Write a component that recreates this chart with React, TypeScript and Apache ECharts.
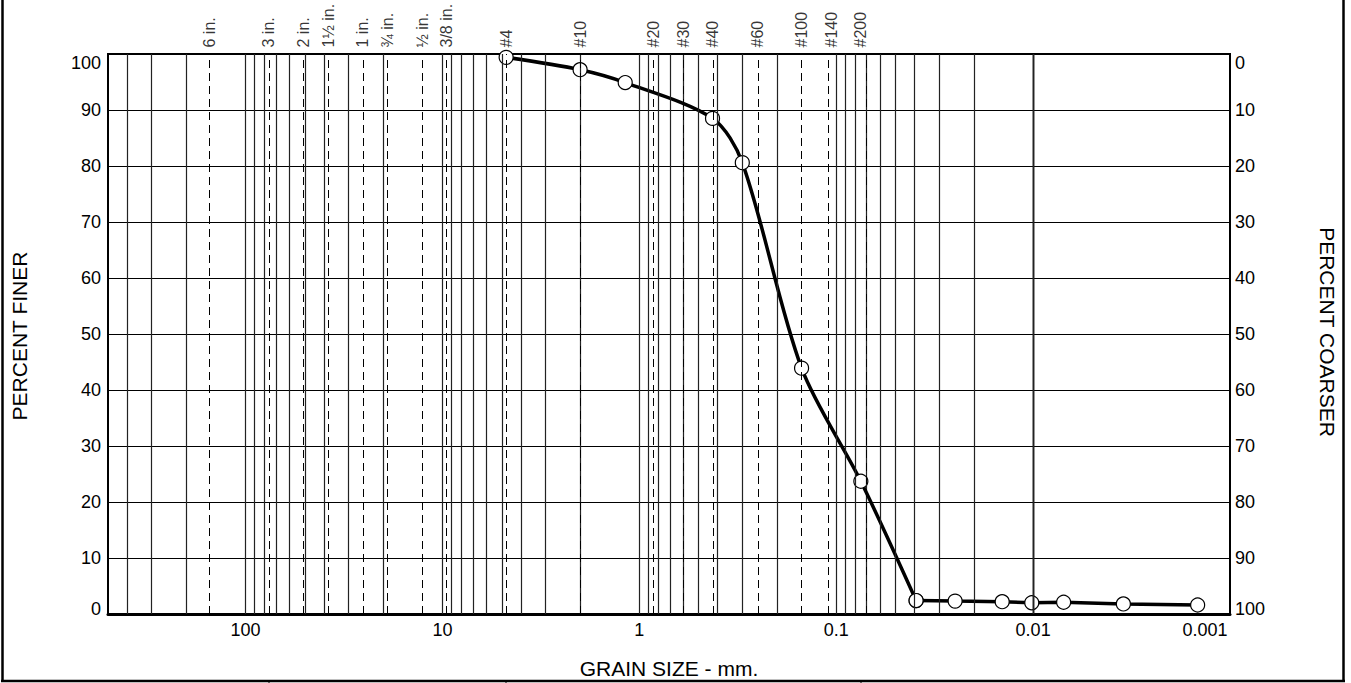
import React, { useEffect, useRef } from 'react';
import * as echarts from 'echarts';

// Grain size (mm) and percent finer
const grainSizes = [4.75, 2.0, 1.18, 0.425, 0.3, 0.15, 0.075, 0.0393, 0.0249, 0.01436, 0.01016, 0.007, 0.00348, 0.00146];
const percentFiner = [99.4, 97.2, 94.9, 88.5, 80.6, 43.9, 23.7, 2.4, 2.3, 2.2, 2.0, 2.1, 1.8, 1.6];
// the first 8 points (sieves + first hydrometer reading) form the smooth curve
const smoothCount = 8;

// Sieve openings (mm) drawn as dashed lines with labels on top
const sieveOpenings = [152.4, 76.2, 50.8, 38.1, 25.4, 19.05, 12.7, 9.525, 4.75, 2.0, 0.85, 0.6, 0.425, 0.25, 0.15, 0.106, 0.075];
const sieveLabels = ['6 in.', '3 in.', '2 in.', '1½ in.', '1 in.', '¾ in.', '½ in.', '3/8 in.', '#4', '#10', '#20', '#30', '#40', '#60', '#100', '#140', '#200'];

// x tick labels by exponent (10^-3 .. 10^2)
const xTickLabels = ['0.001', '0.01', '0.1', '1', '10', '100'];
const xMin = 0.001;
const xMax = 500;
const decadeExponents = [-3, -2, -1, 0, 1, 2];
const decadeMultipliers = [1, 2, 3, 4, 5, 6, 7, 8, 9];

const FONT = '"Liberation Sans", Arial, Helvetica, sans-serif';

export default function App() {
  const ref = useRef<HTMLDivElement>(null);

  useEffect(() => {
    if (!ref.current) return;
    const chart = echarts.init(ref.current, undefined, { renderer: 'svg' });

    const gridValues: number[] = [];
    decadeExponents.forEach((e) => {
      decadeMultipliers.forEach((m) => {
        const v = parseFloat((m * Math.pow(10, e)).toPrecision(6));
        if (v > xMin && v < xMax) gridValues.push(v);
      });
    });

    const pts = grainSizes.map((g, i) => [g, percentFiner[i]]);
    const smoothPts = pts.slice(0, smoothCount);
    const straightPts = pts.slice(smoothCount - 1);

    const labelRich = {
      t: { padding: [18, 0, 0, 0], fontSize: 18, fontFamily: FONT, color: '#000' },
      b: { padding: [0, 0, 10, 0], fontSize: 18, fontFamily: FONT, color: '#000' },
    };

    const option: any = {
      animation: false,
      backgroundColor: '#fff',
      grid: {
        left: 108,
        right: 121,
        top: 54,
        bottom: 69,
        show: true,
        borderColor: '#000',
        borderWidth: 2,
        backgroundColor: 'transparent',
      },
      xAxis: {
        type: 'log',
        logBase: 10,
        min: xMin,
        max: xMax,
        inverse: true,
        axisLine: { show: true, onZero: false, lineStyle: { color: '#000', width: 3 } },
        axisTick: { show: false },
        splitLine: { show: false },
        minorTick: { show: false },
        axisLabel: {
          show: true,
          margin: 7,
          fontSize: 18,
          fontFamily: FONT,
          color: '#000',
          formatter: (v: number) => {
            const e = Math.log10(v);
            const r = Math.round(e);
            if (Math.abs(e - r) > 1e-6) return '';
            const s = xTickLabels[r + 3];
            if (!s) return '';
            return r === -3 ? '{r|' + s + '}' : s;
          },
          rich: {
            r: { padding: [0, 50, 0, 0], fontSize: 18, fontFamily: FONT, color: '#000' },
          },
        },
      },
      yAxis: [
        {
          type: 'value',
          min: 0,
          max: 100,
          interval: 10,
          position: 'left',
          axisLine: { show: true, lineStyle: { color: '#000', width: 2 } },
          axisTick: { show: false },
          splitLine: { show: true, lineStyle: { color: '#000', width: 1 } },
          axisLabel: {
            margin: 7,
            fontSize: 18,
            fontFamily: FONT,
            color: '#000',
            formatter: (v: number) => (v === 100 ? '{t|100}' : v === 0 ? '{b|0}' : String(v)),
            rich: labelRich,
          },
        },
        {
          type: 'value',
          min: 0,
          max: 100,
          interval: 10,
          position: 'right',
          inverse: true,
          axisLine: { show: true, lineStyle: { color: '#000', width: 2 } },
          axisTick: { show: false },
          splitLine: { show: false },
          axisLabel: {
            margin: 5,
            fontSize: 18,
            fontFamily: FONT,
            color: '#000',
            formatter: (v: number) => (v === 0 ? '{t|0}' : v === 100 ? '{b|100}' : String(v)),
            rich: labelRich,
          },
        },
      ],
      series: [
        {
          type: 'line',
          data: [],
          xAxisIndex: 0,
          yAxisIndex: 0,
          z: 1,
          silent: true,
          markLine: {
            silent: true,
            symbol: ['none', 'none'],
            label: { show: false },
            lineStyle: { color: '#222', width: 1.2, type: 'solid' },
            data: gridValues.map((v) => ({ xAxis: v })),
          },
        },
        {
          type: 'scatter',
          xAxisIndex: 0,
          yAxisIndex: 0,
          z: 2,
          silent: true,
          clip: false,
          symbolSize: 1,
          itemStyle: { color: 'rgba(0,0,0,0)' },
          data: sieveOpenings.map((s, i) => ({ value: [s, 100], name: sieveLabels[i] })),
          label: {
            show: true,
            formatter: '{b}',
            position: 'top',
            distance: 5,
            rotate: 90,
            align: 'left',
            verticalAlign: 'middle',
            offset: [1, 0],
            fontSize: 16,
            fontFamily: FONT,
            color: '#000',
          },
          markLine: {
            silent: true,
            symbol: ['none', 'none'],
            label: { show: false },
            lineStyle: { color: '#000', width: 1, type: [8, 5] },
            data: sieveOpenings.map((v) => ({ xAxis: v })),
          },
        },
        {
          type: 'line',
          xAxisIndex: 0,
          yAxisIndex: 0,
          z: 3,
          data: smoothPts,
          smooth: 0.3,
          symbol: 'circle',
          symbolSize: 14,
          itemStyle: { color: '#fff', borderColor: '#000', borderWidth: 1.2 },
          lineStyle: { color: '#000', width: 3.5 },
        },
        {
          type: 'line',
          xAxisIndex: 0,
          yAxisIndex: 0,
          z: 4,
          data: straightPts,
          smooth: false,
          symbol: 'circle',
          symbolSize: 14,
          itemStyle: { color: '#fff', borderColor: '#000', borderWidth: 1.2 },
          lineStyle: { color: '#000', width: 3.5 },
        },
      ],
      graphic: [
        {
          type: 'text',
          x: 19,
          y: 336,
          rotation: Math.PI / 2,
          style: { text: 'PERCENT FINER', fontSize: 21, fontFamily: FONT, fill: '#000', align: 'center', verticalAlign: 'middle' },
        },
        {
          type: 'text',
          x: 1327,
          y: 332,
          rotation: -Math.PI / 2,
          style: { text: 'PERCENT COARSER', fontSize: 21, fontFamily: FONT, fill: '#000', align: 'center', verticalAlign: 'middle' },
        },
        {
          type: 'text',
          x: 669,
          y: 668,
          style: { text: 'GRAIN SIZE - mm.', fontSize: 21, fontFamily: FONT, fill: '#000', align: 'center', verticalAlign: 'middle' },
        },
        { type: 'line', shape: { x1: 2.5, y1: 0, x2: 2.5, y2: 682 }, style: { stroke: '#000', lineWidth: 2.5 } },
        { type: 'line', shape: { x1: 1343.5, y1: 0, x2: 1343.5, y2: 682 }, style: { stroke: '#000', lineWidth: 2.5 } },
        { type: 'line', shape: { x1: 1, y1: 681, x2: 1345, y2: 681 }, style: { stroke: '#000', lineWidth: 2.5 } },
        { type: 'line', shape: { x1: 269, y1: 681, x2: 269, y2: 683 }, style: { stroke: '#000', lineWidth: 1 } },
        { type: 'line', shape: { x1: 506, y1: 681, x2: 506, y2: 683 }, style: { stroke: '#000', lineWidth: 1 } },
        { type: 'line', shape: { x1: 861, y1: 681, x2: 861, y2: 683 }, style: { stroke: '#000', lineWidth: 1 } },
      ],
    };

    chart.setOption(option);
    return () => chart.dispose();
  }, []);

  return (
    <div
      ref={ref}
      style={{ position: 'absolute', left: 0, top: 0, width: 1351, height: 683, background: '#fff' }}
    />
  );
}
